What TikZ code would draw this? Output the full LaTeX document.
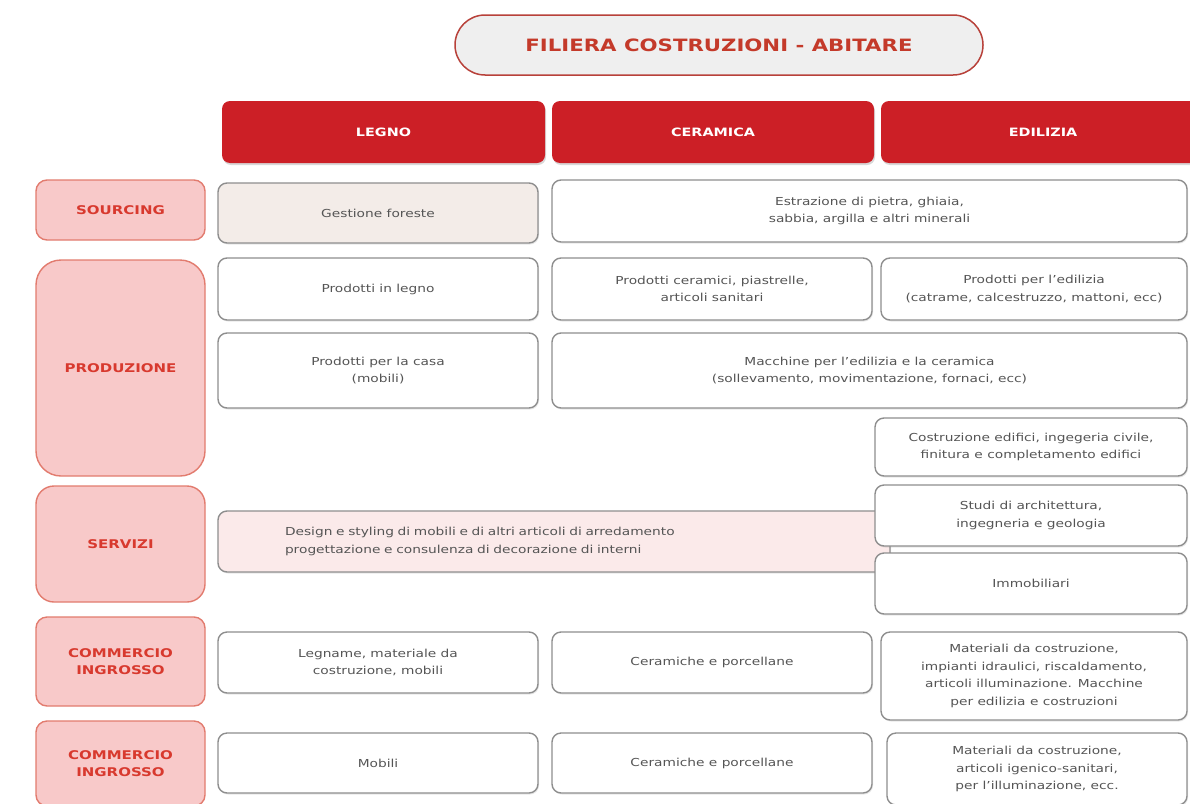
\documentclass[tikz,border=0pt]{standalone}
\usepackage{fontspec}
\setmainfont{DejaVu Sans}[FakeStretch=1.25]
\usetikzlibrary{shadows}
\definecolor{hdrred}{HTML}{CC1F26}
\definecolor{lblfill}{HTML}{F8C9C9}
\definecolor{lbldraw}{HTML}{E27B6E}
\definecolor{lbltext}{HTML}{D8392E}
\definecolor{titlefill}{HTML}{EFEFEF}
\definecolor{titledraw}{HTML}{B8413A}
\definecolor{titletext}{HTML}{C43A2A}
\definecolor{boxdraw}{HTML}{8E8E8E}
\definecolor{boxtext}{HTML}{555555}
\definecolor{beige}{HTML}{F3ECE8}
\definecolor{pinklight}{HTML}{FBEAEA}
\newcommand\mybox[7]{\node[#6, minimum width={(#4-#2)*1pt}, minimum height={(#5-#3)*1pt}] (#1) at ({(#2+#4)/2},{(#3+#5)/2}) {#7};}
\tikzset{
  box/.style={draw=boxdraw, line width=1.4pt, fill=white, rounded corners=9pt, text=boxtext,
    font=\fontsize{11}{17.5}\selectfont, align=center, inner sep=0pt,
    drop shadow={opacity=0.18, shadow xshift=1pt, shadow yshift=-1.5pt}},
  lbl/.style={draw=lbldraw, line width=1.4pt, fill=lblfill, rounded corners=11pt, text=lbltext,
    font=\bfseries\fontsize{12}{17}\selectfont, align=center, inner sep=0pt},
  hdr/.style={fill=hdrred, rounded corners=8pt, text=white, inner sep=0pt,
    font=\bfseries\fontsize{11.5}{14}\selectfont,
    drop shadow={opacity=0.3, shadow xshift=1pt, shadow yshift=-2pt}},
  ttl/.style={draw=titledraw, line width=1.5pt, fill=titlefill, rounded corners=30pt, text=titletext,
    font=\bfseries\fontsize{17}{22}\selectfont, inner sep=0pt}
}
\begin{document}
\begin{tikzpicture}[x=1pt,y=-1pt]
\useasboundingbox (0,0) rectangle (1190,803);
\clip (0,0) rectangle (1190,803);
\fill[white] (0,0) rectangle (1190,803);
% title
\mybox{title}{455}{15}{983}{75}{ttl}{FILIERA COSTRUZIONI - ABITARE}
% headers
\mybox{legno}{222}{101}{545}{163}{hdr}{LEGNO}
\mybox{ceramica}{552}{101}{874}{163}{hdr}{CERAMICA}
\mybox{edilizia}{881}{101}{1205}{163}{hdr}{EDILIZIA}
% left labels
\mybox{sourcing}{36}{180}{205}{240}{lbl}{SOURCING}
\mybox{produzione}{36}{260}{205}{476}{lbl, rounded corners=25pt}{PRODUZIONE}
\mybox{servizi}{36}{486}{205}{602}{lbl, rounded corners=18pt}{SERVIZI}
\mybox{comm1}{36}{617}{205}{706}{lbl}{COMMERCIO\\INGROSSO}
\mybox{comm2}{36}{721}{205}{806}{lbl}{COMMERCIO\\INGROSSO}
% sourcing row
\mybox{gestione}{218}{183}{538}{243}{box, fill=beige}{Gestione foreste}
\mybox{estrazione}{552}{180}{1187}{242}{box}{Estrazione di pietra, ghiaia,\\sabbia, argilla e altri minerali}
% produzione
\mybox{plegno}{218}{258}{538}{320}{box}{Prodotti in legno}
\mybox{pceram}{552}{258}{872}{320}{box}{Prodotti ceramici, piastrelle,\\articoli sanitari}
\mybox{pedil}{881}{258}{1187}{320}{box}{Prodotti per l'edilizia\\(catrame, calcestruzzo, mattoni, ecc)}
\mybox{pcasa}{218}{333}{538}{408}{box}{Prodotti per la casa\\(mobili)}
\mybox{macchine}{552}{333}{1187}{408}{box}{Macchine per l'edilizia e la ceramica\\(sollevamento, movimentazione, fornaci, ecc)}
\mybox{costruz}{875}{418}{1187}{476}{box}{Costruzione edifici, ingegeria civile,\\finitura e completamento edifici}
% servizi
\node[box, fill=pinklight, text width=538pt, inner xsep=67pt, align=left, minimum height=61pt] (design) at (554,541.5)
  {Design e styling di mobili e di altri articoli di arredamento\\progettazione e consulenza di decorazione di interni};
\mybox{studi}{875}{485}{1187}{546}{box}{Studi di architettura,\\ingegneria e geologia}
\mybox{immob}{875}{553}{1187}{614}{box}{Immobiliari}
% commercio ingrosso 1
\mybox{legname}{218}{632}{538}{693}{box}{Legname, materiale da\\costruzione, mobili}
\mybox{ceram1}{552}{632}{872}{693}{box}{Ceramiche e porcellane}
\mybox{mat1}{881}{632}{1187}{720}{box}{Materiali da costruzione,\\impianti idraulici, riscaldamento,\\articoli illuminazione. Macchine\\per edilizia e costruzioni}
% commercio ingrosso 2
\mybox{mobili}{218}{733}{538}{793}{box}{Mobili}
\mybox{ceram2}{552}{733}{872}{793}{box}{Ceramiche e porcellane}
\mybox{mat2}{887}{733}{1187}{805}{box}{Materiali da costruzione,\\articoli igenico-sanitari,\\per l'illuminazione, ecc.}
\end{tikzpicture}
\end{document}
